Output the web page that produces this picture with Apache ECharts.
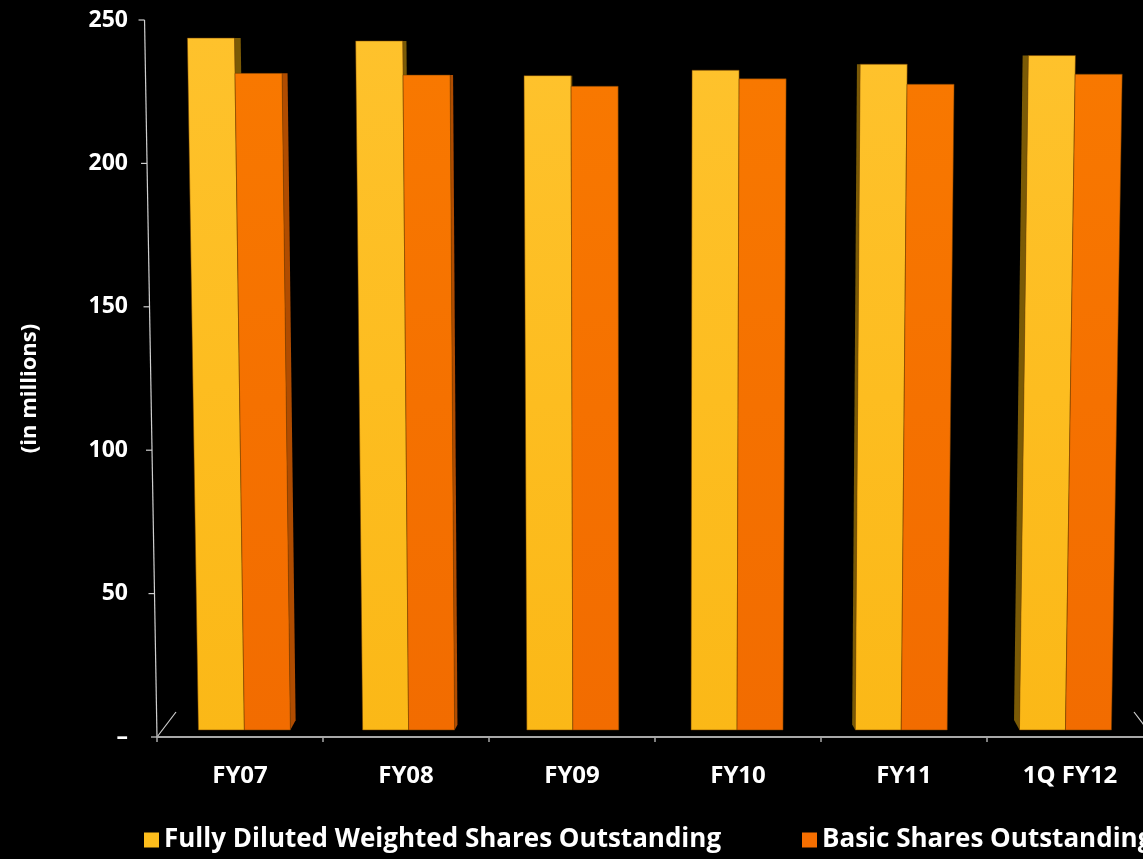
<!DOCTYPE html>
<html>
<head>
<meta charset="utf-8">
<script src="https://cdn.jsdelivr.net/npm/echarts@6/dist/echarts.min.js"></script>
<style>
  html, body { margin: 0; padding: 0; background: #000; }
  #chart { width: 1143px; height: 859px; }
</style>
</head>
<body>
<div id="chart"></div>
<script>
// Shares outstanding, in millions
const categories = ['FY07', 'FY08', 'FY09', 'FY10', 'FY11', '1Q FY12'];
const fullyDiluted = [243.7, 242.7, 230.6, 232.5, 234.6, 237.6];
const basicShares = [231.4, 230.8, 226.9, 229.5, 227.6, 231.1];
const yTicks = [0, 50, 100, 150, 200, 250];
const seriesNames = ['Fully Diluted Weighted Shares Outstanding', 'Basic Shares Outstanding'];

const FONT = '"Open Sans", "Liberation Sans", sans-serif';
const GRID = { left: 157, top: 20, width: 996, height: 717 };
const VX = GRID.left + GRID.width * 0.493;   // perspective vanishing column
const LEAN = 3.54e-5;        // outward lean per pixel of height
const DEPTH_SHRINK = 0.011;  // bars stand slightly behind the axis plane
const FLOOR_INSET = 7;
const SIDE_DEPTH = 0.015;
const BAR_FRACTION = 0.277;

const faces = [
  { type: 'linear', x: 0, y: 0, x2: 1, y2: 1, colorStops: [
    { offset: 0, color: '#FEC22C' }, { offset: 0.5, color: '#FDBD20' }, { offset: 1, color: '#FBB817' } ] },
  { type: 'linear', x: 0, y: 0, x2: 1, y2: 1, colorStops: [
    { offset: 0, color: '#F87800' }, { offset: 0.5, color: '#F57100' }, { offset: 1, color: '#F26C00' } ] }
];
const sideColors = ['#7A5A06', '#B04C00'];
const legendColors = ['#FDBD1C', '#F56E00'];

function barRenderer(slot) {
  return function (params, api) {
    const i = api.value(0);
    const v = api.value(1);
    const base = api.coord([i, 0]);
    const topP = api.coord([i, v]);
    const cw = api.size([1, 0])[0];
    const bw = cw * BAR_FRACTION;
    const center = base[0] + (VX - base[0]) * DEPTH_SHRINK;
    const xl = center - bw + slot * bw;
    const xr = xl + bw;
    const y0 = base[1];
    const yb = y0 - FLOOR_INSET;
    const yt = topP[1];
    const L = (x, y) => [x + (x - VX) * (y0 - y) * LEAN, y];
    const children = [];
    let edge = null;
    if (xr < VX) edge = xr;
    else if (xl > VX && slot === 0) edge = xl;
    if (edge !== null) {
      const dx = (VX - edge) * SIDE_DEPTH;
      if (Math.abs(dx) >= 1) {
        children.push({
          type: 'polygon',
          shape: { points: [L(edge, yb), L(edge, yt), L(edge + dx, yt), L(edge + dx, yb - Math.abs(dx) * 1.8)] },
          style: { fill: sideColors[slot] }
        });
      }
    }
    children.push({
      type: 'polygon',
      shape: { points: [L(xl, yb), L(xl, yt), L(xr, yt), L(xr, yb)] },
      style: { fill: faces[slot], stroke: 'rgba(110,60,0,0.28)', lineWidth: 1 }
    });
    return { type: 'group', children: children };
  };
}

const chart = echarts.init(document.getElementById('chart'));

const option = {
  backgroundColor: '#000',
  animation: false,
  grid: Object.assign({ containLabel: false, outerBoundsMode: 'none' }, GRID),
  xAxis: {
    type: 'category',
    data: categories,
    axisLine: { show: true, lineStyle: { color: '#a8a8a8', width: 2 } },
    axisTick: { show: true, length: 5, lineStyle: { color: '#a8a8a8', width: 1.5 } },
    axisLabel: { color: '#fff', fontFamily: FONT, fontWeight: 'bold', fontSize: 24, margin: 27 },
    splitLine: { show: false }
  },
  yAxis: {
    type: 'value',
    min: 0, max: 250, interval: 50,
    name: '(in millions)',
    nameLocation: 'middle',
    nameRotate: 90,
    nameGap: 116,
    nameTextStyle: { color: '#fff', fontFamily: FONT, fontWeight: 'bold', fontSize: 22, padding: [0, 20, 0, 0] },
    axisLine: { show: false },
    axisTick: { show: false },
    splitLine: { show: false },
    axisLabel: {
      color: '#fff', fontFamily: FONT, fontWeight: 'bold', fontSize: 23, margin: 29,
      formatter: v => (v === 0 ? '–' : String(v))
    }
  },
  legend: [0, 1].map(k => ({
    data: [seriesNames[k]],
    left: k === 0 ? 139 : 797,
    top: 822,
    icon: 'rect',
    itemWidth: 15,
    itemHeight: 15,
    itemGap: 6,
    textStyle: { color: '#fff', fontFamily: FONT, fontWeight: 'bold', fontSize: 26, padding: [0, 0, 0, 0] }
  })),
  series: [
    {
      name: seriesNames[0],
      type: 'custom',
      renderItem: barRenderer(0),
      itemStyle: { color: legendColors[0] },
      encode: { x: 0, y: 1 },
      data: categories.map((c, i) => [i, fullyDiluted[i]])
    },
    {
      name: seriesNames[1],
      type: 'custom',
      renderItem: barRenderer(1),
      itemStyle: { color: legendColors[1] },
      encode: { x: 0, y: 1 },
      data: categories.map((c, i) => [i, basicShares[i]])
    }
  ]
};
chart.setOption(option);

// Slanted value axis, its ticks and the floor edges
(function drawFrame() {
  const y0 = chart.convertToPixel({ yAxisIndex: 0 }, 0);
  const x0 = GRID.left;
  const L = (x, y) => [x + (x - VX) * (y0 - y) * LEAN, y];
  const yTop = chart.convertToPixel({ yAxisIndex: 0 }, yTicks[yTicks.length - 1]);
  const stroke = { stroke: '#cfcfcf', lineWidth: 1.2 };
  const els = [];
  const a = L(x0, y0), b = L(x0, yTop);
  els.push({ type: 'line', shape: { x1: a[0], y1: a[1], x2: b[0], y2: b[1] }, style: stroke, silent: true });
  yTicks.forEach(t => {
    const p = L(x0, chart.convertToPixel({ yAxisIndex: 0 }, t));
    els.push({ type: 'line', shape: { x1: p[0] - 6, y1: p[1], x2: p[0], y2: p[1] }, style: stroke, silent: true });
  });
  els.push({ type: 'line', shape: { x1: x0, y1: y0, x2: x0 + 19, y2: y0 - 25 }, style: stroke, silent: true });
  const xEnd = GRID.left + GRID.width;
  els.push({ type: 'line', shape: { x1: xEnd, y1: y0, x2: xEnd - 19, y2: y0 - 25 }, style: stroke, silent: true });
  chart.setOption({ graphic: els });
})();
</script>
</body>
</html>
